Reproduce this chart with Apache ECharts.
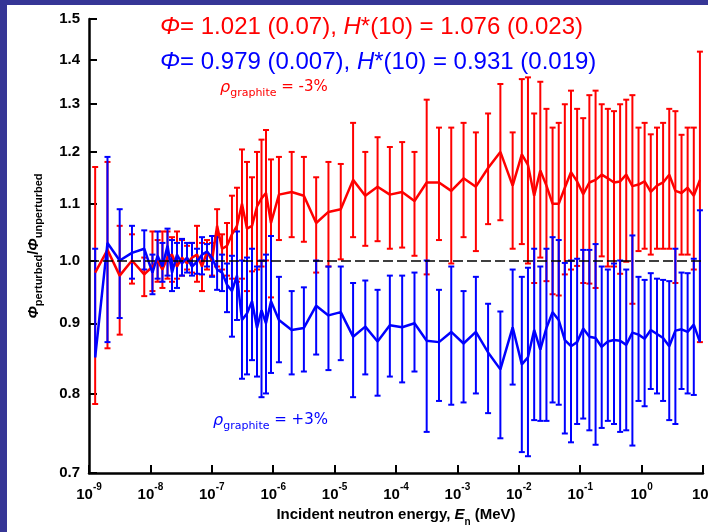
<!DOCTYPE html>
<html>
<head>
<meta charset="utf-8">
<script src="https://cdn.jsdelivr.net/npm/echarts@6/dist/echarts.min.js"></script>
<style>
html, body { margin: 0; padding: 0; background: #363696; }
#chart { width: 708px; height: 532px; }
</style>
</head>
<body>
<div id="chart"></div>
<script>
// Incident neutron energy of each group (MeV)
const energy = [
  1.26e-9, 2.00e-9, 3.16e-9, 5.01e-9, 7.94e-9,
  1.08e-8, 1.31e-8, 1.57e-8, 1.90e-8, 2.25e-8, 2.71e-8, 3.27e-8, 3.95e-8, 4.76e-8, 5.74e-8,
  6.92e-8, 8.35e-8, 1.01e-7, 1.22e-7, 1.47e-7, 1.77e-7, 2.13e-7, 2.57e-7, 3.10e-7, 3.74e-7,
  4.52e-7, 5.45e-7, 6.45e-7, 7.63e-7, 9.21e-7, 1.24e-6,
  2.00e-6, 3.16e-6, 5.01e-6, 7.94e-6, 1.26e-5, 2.00e-5, 3.16e-5, 5.01e-5, 7.94e-5, 1.26e-4,
  2.00e-4, 3.16e-4, 5.01e-4, 7.94e-4, 1.26e-3, 2.00e-3, 3.16e-3, 5.01e-3, 7.94e-3,
  1.12e-2, 1.41e-2, 1.78e-2, 2.24e-2, 2.82e-2, 3.55e-2, 4.47e-2, 5.62e-2, 7.08e-2, 8.91e-2,
  0.112, 0.141, 0.178, 0.224, 0.282, 0.355, 0.447, 0.562, 0.708, 0.891,
  1.12, 1.41, 1.78, 2.24, 2.82, 3.55, 4.47, 5.62, 7.08, 8.91
];

// Graphite density -3 %: flux ratio and its error-bar ends
const minusValue = [
  0.980, 1.018, 0.975, 1.000, 0.977,
  0.990, 1.000, 0.985, 1.005, 1.010, 0.990, 1.005, 0.995, 1.005, 1.010,
  0.990, 1.015, 1.000, 1.060, 1.020, 1.025, 1.045, 1.060, 1.100, 1.055,
  1.060, 1.095, 1.110, 1.120, 1.065, 1.117,
  1.122, 1.115, 1.065, 1.085, 1.090, 1.145, 1.115, 1.132, 1.117, 1.122,
  1.105, 1.140, 1.140, 1.124, 1.148, 1.132, 1.168, 1.200, 1.134,
  1.195, 1.174, 1.115, 1.163, 1.134, 1.100, 1.100, 1.130, 1.160, 1.142,
  1.118, 1.140, 1.145, 1.155, 1.148, 1.140, 1.142, 1.155, 1.133, 1.136,
  1.142, 1.122, 1.134, 1.140, 1.155, 1.124, 1.120, 1.130, 1.115, 1.145
];
const minusLow = [
  0.786, 0.863, 0.883, 0.962, 0.942,
  0.950, 0.965, 0.955, 0.970, 0.965, 0.970, 0.975, 0.985, 0.980, 0.965,
  0.950, 0.985, 0.975, 0.990, 0.985, 0.975, 0.970, 0.965, 0.970, 0.950,
  0.982, 0.985, 0.990, 1.000, 0.940, 1.035,
  1.040, 1.032, 0.980, 0.990, 1.002, 1.040, 1.025, 1.033, 1.020, 1.022,
  1.008, 0.977, 1.035, 0.995, 1.040, 1.016, 1.063, 1.070, 1.020,
  1.028, 0.995, 0.963, 1.005, 0.966, 0.945, 0.943, 0.977, 0.985, 0.991,
  0.963, 0.962, 0.955, 1.007, 0.990, 0.990, 0.978, 0.998, 0.930, 1.016,
  1.020, 1.010, 1.020, 1.020, 1.020, 0.963, 1.010, 1.010, 0.985, 0.872
];
const minusHigh = [
  1.170, 1.180, 1.060, 1.045, 1.005,
  1.050, 1.035, 1.050, 1.050, 1.040, 1.050, 1.035, 1.025, 1.030, 1.060,
  1.030, 1.035, 1.030, 1.090, 1.045, 1.065, 1.115, 1.130, 1.205, 1.180,
  1.150, 1.200, 1.225, 1.245, 1.185, 1.190,
  1.200, 1.190, 1.150, 1.180, 1.176, 1.260, 1.200, 1.230, 1.210, 1.220,
  1.200, 1.310, 1.250, 1.250, 1.260, 1.240, 1.280, 1.345, 1.240,
  1.356, 1.360, 1.280, 1.350, 1.290, 1.250, 1.260, 1.300, 1.330, 1.290,
  1.270, 1.320, 1.330, 1.300, 1.290, 1.285, 1.300, 1.310, 1.320, 1.250,
  1.260, 1.236, 1.250, 1.260, 1.290, 1.285, 1.235, 1.250, 1.250, 1.420
];

// Graphite density +3 %: flux ratio and its error-bar ends
const plusValue = [
  0.850, 1.030, 1.000, 1.013, 1.020,
  0.980, 1.008, 0.990, 1.025, 0.980, 1.010, 0.995, 1.005, 0.990, 0.998,
  1.010, 1.015, 1.005, 0.985, 0.980, 0.960, 0.950, 0.975, 0.905, 0.915,
  0.934, 0.893, 0.920, 0.900, 0.934, 0.905,
  0.890, 0.893, 0.927, 0.912, 0.917, 0.880, 0.895, 0.873, 0.897, 0.894,
  0.900, 0.874, 0.872, 0.887, 0.870, 0.887, 0.857, 0.833, 0.894,
  0.840, 0.850, 0.890, 0.861, 0.893, 0.917, 0.905, 0.875, 0.866, 0.872,
  0.892, 0.880, 0.878, 0.865, 0.873, 0.875, 0.874, 0.868, 0.886, 0.883,
  0.877, 0.890, 0.884, 0.878, 0.866, 0.889, 0.891, 0.887, 0.898, 0.872
];
const plusLow = [
  0.850, 0.872, 0.908, 0.970, 0.985,
  0.945, 0.970, 0.965, 0.975, 0.950, 0.955, 0.975, 0.980, 0.975, 0.978,
  0.977, 0.990, 0.973, 0.952, 0.950, 0.917, 0.880, 0.905, 0.820, 0.826,
  0.846, 0.823, 0.795, 0.800, 0.828, 0.843,
  0.826, 0.830, 0.854, 0.832, 0.846, 0.795, 0.826, 0.797, 0.823, 0.815,
  0.830, 0.750, 0.790, 0.785, 0.788, 0.800, 0.774, 0.742, 0.812,
  0.725, 0.720, 0.765, 0.764, 0.764, 0.788, 0.785, 0.748, 0.737, 0.760,
  0.767, 0.752, 0.734, 0.755, 0.764, 0.760, 0.750, 0.752, 0.733, 0.790,
  0.783, 0.806, 0.800, 0.790, 0.765, 0.760, 0.806, 0.800, 0.798, 0.872
];
const plusHigh = [
  1.020, 1.190, 1.090, 1.060, 1.052,
  1.010, 1.050, 1.030, 1.055, 1.035, 1.030, 1.037, 1.030, 1.030, 1.020,
  1.040, 1.028, 1.042, 1.040, 1.010, 0.995, 1.008, 1.050, 1.000, 1.005,
  1.020, 0.990, 1.000, 1.010, 1.042, 0.973,
  0.950, 0.956, 1.000, 0.990, 0.990, 0.963, 0.967, 0.952, 0.975, 0.975,
  0.980, 1.000, 0.952, 0.990, 0.950, 0.973, 0.930, 0.918, 0.985,
  0.973, 0.988, 1.020, 0.990, 1.020, 1.040, 1.035, 0.996, 1.000, 1.003,
  1.018, 1.018, 1.028, 0.990, 0.985, 0.995, 1.000, 0.985, 1.043, 0.973,
  0.968, 0.979, 0.970, 0.968, 0.966, 1.020, 0.980, 0.979, 1.003, 1.088
];

// Axis ticks
const xTickValues = [1e-9, 1e-8, 1e-7, 1e-6, 1e-5, 1e-4, 1e-3, 1e-2, 1e-1, 1e0, 1e1];
const yTickValues = [0.7, 0.8, 0.9, 1.0, 1.1, 1.2, 1.3, 1.4, 1.5];

const RED = '#ff0000';
const BLUE = '#0000ff';
const SANS = '"Liberation Sans", Arial, sans-serif';

function errorBars(name, color, low, high, value) {
  return {
    type: 'custom',
    name: name,
    z: 2,
    data: energy.map((e, i) => [e, low[i], high[i], value[i]]),
    encode: { x: 0, y: [1, 2] },
    renderItem: function (params, api) {
      const e = api.value(0);
      const lo = api.value(1), hi = api.value(2), v = api.value(3);
      const pHi = api.coord([e, hi]);
      const pLo = api.coord([e, lo]);
      const half = 3;
      const style = { stroke: color, lineWidth: 2 };
      const children = [
        { type: 'line', shape: { x1: pHi[0], y1: pHi[1], x2: pLo[0], y2: pLo[1] }, style: style },
        { type: 'line', shape: { x1: pHi[0] - half, y1: pHi[1], x2: pHi[0] + half, y2: pHi[1] }, style: style }
      ];
      if (lo < v) {
        children.push({ type: 'line', shape: { x1: pLo[0] - half, y1: pLo[1], x2: pLo[0] + half, y2: pLo[1] }, style: style });
      }
      return { type: 'group', children: children };
    }
  };
}

function ratioLine(name, color, value, extra) {
  return Object.assign({
    type: 'line',
    name: name,
    z: 3,
    data: energy.map((e, i) => [e, value[i]]),
    showSymbol: false,
    symbol: 'none',
    lineStyle: { color: color, width: 2.5 },
    itemStyle: { color: color },
    animation: false
  }, extra || {});
}

const chart = echarts.init(document.getElementById('chart'), null, { renderer: 'canvas' });

chart.setOption({
  animation: false,
  backgroundColor: '#363696',
  grid: { left: 89, right: 5, top: 19, bottom: 59, containLabel: false, outerBoundsMode: 'none' },
  xAxis: {
    type: 'log',
    logBase: 10,
    min: 1e-9,
    max: 10,
    axisLine: { lineStyle: { color: '#000', width: 2.5 } },
    axisTick: { inside: true, length: 8, lineStyle: { color: '#000', width: 2 }, customValues: xTickValues },
    minorTick: { show: false },
    splitLine: { show: false },
    axisLabel: {
      customValues: xTickValues,
      margin: 9,
      formatter: function (v) {
        const p = Math.round(Math.log10(v));
        return '{b|10}{s|' + p + '}';
      },
      rich: {
        b: { fontFamily: SANS, fontWeight: 'bold', fontSize: 15, color: '#000', lineHeight: 20, verticalAlign: 'bottom' },
        s: { fontFamily: SANS, fontWeight: 'bold', fontSize: 10, color: '#000', lineHeight: 10, verticalAlign: 'top' }
      }
    },
    name: '{t|Incident neutron energy, }{e|E}{sub|n}{t| (MeV)}',
    nameLocation: 'middle',
    nameGap: 34,
    nameTextStyle: {
      rich: {
        t: { fontFamily: SANS, fontWeight: 'bold', fontSize: 15, color: '#000', lineHeight: 20, verticalAlign: 'top' },
        e: { fontFamily: SANS, fontWeight: 'bold', fontStyle: 'italic', fontSize: 15, color: '#000', lineHeight: 20, verticalAlign: 'top' },
        sub: { fontFamily: SANS, fontWeight: 'bold', fontSize: 10, color: '#000', lineHeight: 10, verticalAlign: 'bottom' }
      }
    }
  },
  yAxis: {
    type: 'log',
    logBase: 10,
    min: 0.7,
    max: 1.5,
    axisLine: { lineStyle: { color: '#000', width: 2.5 } },
    axisTick: { inside: true, length: 8, lineStyle: { color: '#000', width: 2 }, customValues: yTickValues },
    minorTick: { show: false },
    splitLine: { show: false },
    axisLabel: {
      customValues: yTickValues,
      margin: 9,
      fontFamily: SANS,
      fontWeight: 'bold',
      fontSize: 15,
      color: '#000',
      formatter: function (v) { return v.toFixed(1); }
    },
    name: '{phi|Φ}{sub|perturbed}{t|/}{phi|Φ}{sub|unperturbed}',
    nameLocation: 'middle',
    nameGap: 45,
    nameTextStyle: {
      rich: {
        phi: { fontFamily: SANS, fontWeight: 'bold', fontStyle: 'italic', fontSize: 15, color: '#000', lineHeight: 18, verticalAlign: 'top' },
        t: { fontFamily: SANS, fontWeight: 'bold', fontSize: 15, color: '#000', lineHeight: 18, verticalAlign: 'top' },
        sub: { fontFamily: SANS, fontWeight: 'bold', fontSize: 11, color: '#000', lineHeight: 11, verticalAlign: 'bottom' }
      }
    }
  },
  graphic: [
    { type: 'rect', z: -10, silent: true, shape: { x: 7, y: 5, width: 701, height: 527 }, style: { fill: '#ffffff' } },
    {
      type: 'text', x: 160, y: 27, silent: true,
      style: {
        text: '{p|Φ}{t|= 1.021 (0.07), }{p|H}{t|*(10) = 1.076 (0.023)}',
        verticalAlign: 'middle',
        rich: {
          p: { fontFamily: SANS, fontStyle: 'italic', fontSize: 24, fill: RED },
          t: { fontFamily: SANS, fontSize: 24, fill: RED }
        }
      }
    },
    {
      type: 'text', x: 160, y: 62, silent: true,
      style: {
        text: '{p|Φ}{t|= 0.979 (0.007), }{p|H}{t|*(10) = 0.931 (0.019)}',
        verticalAlign: 'middle',
        rich: {
          p: { fontFamily: SANS, fontStyle: 'italic', fontSize: 24, fill: BLUE },
          t: { fontFamily: SANS, fontSize: 24, fill: BLUE }
        }
      }
    },
    {
      type: 'text', x: 220, y: 89, silent: true,
      style: {
        text: '{r|ρ}{s|graphite}{t| = -3%}',
        verticalAlign: 'middle',
        rich: {
          r: { fontFamily: '"DejaVu Sans"', fontStyle: 'italic', fontSize: 16, fill: RED, lineHeight: 19, verticalAlign: 'top' },
          s: { fontFamily: '"DejaVu Sans"', fontSize: 11, fill: RED, lineHeight: 11, verticalAlign: 'bottom' },
          t: { fontFamily: '"DejaVu Sans"', fontSize: 15, fill: RED, lineHeight: 19, verticalAlign: 'top' }
        }
      }
    },
    {
      type: 'text', x: 213, y: 422, silent: true,
      style: {
        text: '{r|ρ}{s|graphite}{t| = +3%}',
        verticalAlign: 'middle',
        rich: {
          r: { fontFamily: '"DejaVu Sans"', fontStyle: 'italic', fontSize: 16, fill: BLUE, lineHeight: 19, verticalAlign: 'top' },
          s: { fontFamily: '"DejaVu Sans"', fontSize: 11, fill: BLUE, lineHeight: 11, verticalAlign: 'bottom' },
          t: { fontFamily: '"DejaVu Sans"', fontSize: 15, fill: BLUE, lineHeight: 19, verticalAlign: 'top' }
        }
      }
    }
  ],
  series: [
    errorBars('minus-err', RED, minusLow, minusHigh, minusValue),
    errorBars('plus-err', BLUE, plusLow, plusHigh, plusValue),
    ratioLine('ρ -3%', RED, minusValue, {
      markLine: {
        silent: true,
        symbol: 'none',
        label: { show: false },
        lineStyle: { color: '#000', type: [10, 4], width: 1.5 },
        data: [{ yAxis: 1 }]
      }
    }),
    ratioLine('ρ +3%', BLUE, plusValue)
  ]
});
</script>
</body>
</html>
